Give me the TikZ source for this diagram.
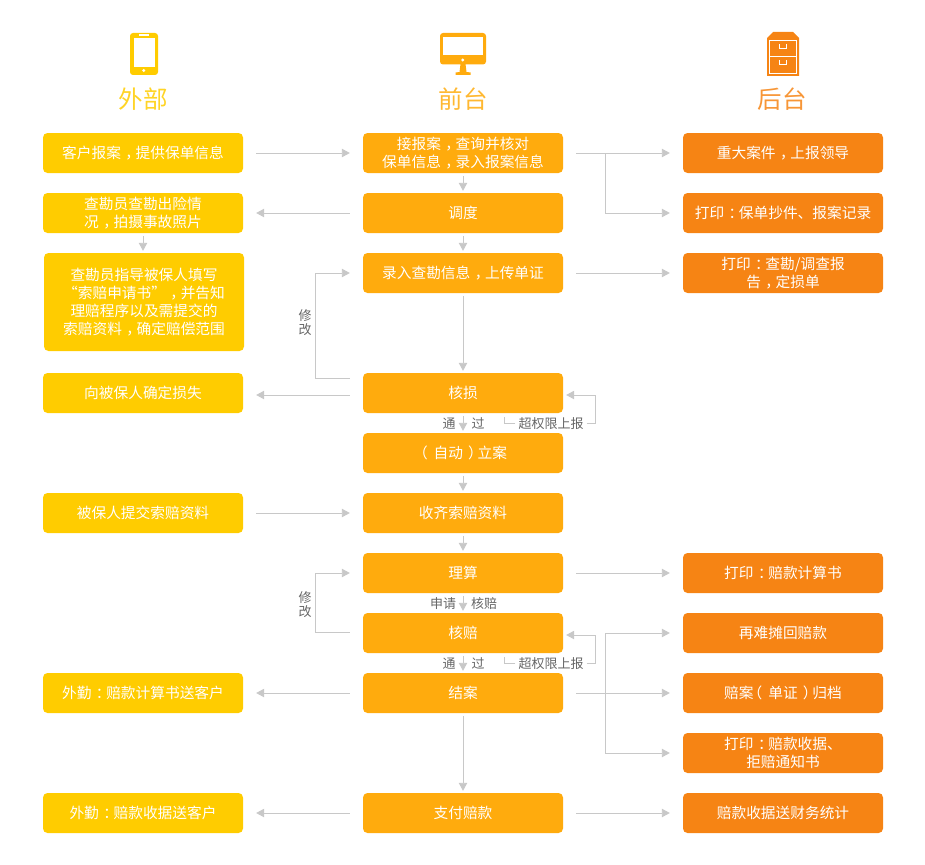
\documentclass[tikz,border=0pt]{standalone}
\usepackage{fontspec}
\setmainfont{Noto Sans CJK SC}
\usetikzlibrary{arrows.meta,calc}
\definecolor{ycol}{HTML}{FFCC00}
\definecolor{ocol}{HTML}{FFAB0D}
\definecolor{dcol}{HTML}{F68414}
\definecolor{lcol}{HTML}{C8C8C8}
\definecolor{tcol}{HTML}{666666}
\newcommand{\pshift}[2]{\makebox[1em][l]{\hspace*{#1}#2}}
\newcommand{\zcm}{\pshift{.3em}{，}}
\newcommand{\zcl}{\pshift{.3em}{：}}
\newcommand{\zlp}{\pshift{-.4em}{（}}
\newcommand{\zrp}{\pshift{.35em}{）}}
\tikzset{
  boxbase/.style={rounded corners=4.5pt,minimum width=200pt,minimum height=40pt,inner sep=0pt,align=center,text=white,font=\fontsize{14.7}{18}\selectfont},
  ybox/.style={boxbase,fill=ycol},
  obox/.style={boxbase,fill=ocol},
  dbox/.style={boxbase,fill=dcol},
  lnk/.style={draw=lcol,line width=0.9pt},
  arr/.style={lnk,-{Triangle[length=8pt,width=8.5pt,fill=lcol,color=lcol]}},
  hflow/.style={arr,shorten <=13pt,shorten >=13pt},
  vflow/.style={arr,shorten <=3pt,shorten >=2pt},
  lab/.style={text=tcol,font=\fontsize{13}{14}\selectfont,inner sep=3pt,align=center},
  ttl/.style={font=\fontsize{24.5}{26}\selectfont,inner sep=0pt},
}
\begin{document}
\begin{tikzpicture}[x=1pt,y=-1pt]
\useasboundingbox (0,0) rectangle (925,864);
% icons
\fill[ycol,rounded corners=3pt] (130,33) rectangle (158,75);
\fill[white] (134,38) rectangle (155,67);
\fill[white] (138.5,34.5) rectangle (148.5,36.2);
\fill[white] (143.7,70.5) circle (1.7pt);
\fill[ocol,rounded corners=3pt] (440,33) rectangle (486,64.5);
\fill[white] (443.3,36.7) rectangle (482.7,55);
\fill[white] (462.7,60) circle (1.7pt);
\fill[ocol] (460.5,64) -- (465.5,64) -- (466.5,72) -- (470.5,72.5) -- (470.5,75) -- (455.5,75) -- (455.5,72.5) -- (459.5,72) -- cycle;
\fill[dcol] (773,32) -- (793,32) -- (799,38) -- (799,76) -- (767,76) -- (767,38) -- cycle;
\fill[white] (769,40) rectangle (797,74);
\fill[dcol] (770,41) rectangle (796,56);
\fill[dcol] (770,57) rectangle (796,73);
\fill[white] (779,44) rectangle (787,49);
\fill[dcol] (780,44) rectangle (786,48);
\fill[white] (779,60.5) rectangle (787,65);
\fill[dcol] (780,60.5) rectangle (786,64);
% titles
\node[ttl,text=ycol!85] (t1) at (143,99) {外部};
\node[ttl,text=ocol!85] (t2) at (463,99) {前台};
\node[ttl,text=dcol!85] (t3) at (782,99) {后台};
% left column
\node[ybox] (a1) at (143,153) {客户报案\zcm 提供保单信息};
\node[ybox] (a2) at (143,213) {查勘员查勘出险情\\况\zcm 拍摄事故照片};
\node[ybox,minimum height=98pt] (a3) at (144,302) {查勘员指导被保人填写\\“索赔申请书”\zcm 并告知\\理赔程序以及需提交的\\索赔资料\zcm 确定赔偿范围};
\node[ybox] (a4) at (143,393) {向被保人确定损失};
\node[ybox] (a6) at (143,513) {被保人提交索赔资料};
\node[ybox] (a9) at (143,693) {外勤\zcl 赔款计算书送客户};
\node[ybox] (a11) at (143,813) {外勤\zcl 赔款收据送客户};
% middle column
\node[obox] (b1) at (463,153) {接报案\zcm 查询并核对\\保单信息\zcm 录入报案信息};
\node[obox] (b2) at (463,213) {调度};
\node[obox] (b3) at (463,273) {录入查勘信息\zcm 上传单证};
\node[obox] (b4) at (463,393) {核损};
\node[obox] (b5) at (463,453) {\zlp 自动\zrp 立案};
\node[obox] (b6) at (463,513) {收齐索赔资料};
\node[obox] (b7) at (463,573) {理算};
\node[obox] (b8) at (463,633) {核赔};
\node[obox] (b9) at (463,693) {结案};
\node[obox] (b11) at (463,813) {支付赔款};
% right column
\node[dbox] (c1) at (783,153) {重大案件\zcm 上报领导};
\node[dbox] (c2) at (783,213) {打印\zcl 保单抄件、报案记录};
\node[dbox] (c3) at (783,273) {打印\zcl 查勘/调查报\\告\zcm 定损单};
\node[dbox] (c7) at (783,573) {打印\zcl 赔款计算书};
\node[dbox] (c8) at (783,633) {再难摊回赔款};
\node[dbox] (c9) at (783,693) {赔案\zlp 单证\zrp 归档};
\node[dbox] (c10) at (783,753) {打印\zcl 赔款收据、\\拒赔通知书};
\node[dbox] (c11) at (783,813) {赔款收据送财务统计};
% labels
\node[lab] (m1) at (305,323) {修\\改};
\node[lab] (m2) at (305,605) {修\\改};
\node[lab] (p1) at (449,423.5) {通};
\node[lab] (p2) at (478,423.5) {过};
\node[lab] (p3) at (443,603.5) {申请};
\node[lab] (p4) at (484,603.5) {核赔};
\node[lab] (p5) at (449,663.5) {通};
\node[lab] (p6) at (478,663.5) {过};
\node[lab] (u1) at (551,423.5) {超权限上报};
\node[lab] (u2) at (551,663.5) {超权限上报};
\coordinate (ul1) at (504,417);
\coordinate (ur1) at (595.5,395);
\coordinate (ul2) at (504,657);
\coordinate (ur2) at (595.5,635);
% horizontal flows
\draw[hflow] (a1.east) -- (b1.west);
\draw[hflow] (b1.east) -- (c1.west);
\draw[hflow] (b1.east) -- ++(42.5pt,0) |- (c2.west);
\draw[hflow] (b2.west) -- (a2.east);
\draw[hflow] (b3.east) -- (c3.west);
\draw[hflow] ([yshift=-2pt]b4.west) -- ([yshift=-2pt]a4.east);
\draw[hflow] (a6.east) -- (b6.west);
\draw[hflow] (b7.east) -- (c7.west);
\draw[hflow] (b9.west) -- (a9.east);
\draw[hflow] (b9.east) -- (c9.west);
\draw[hflow] (b9.east) -- ++(42.5pt,0) |- (c8.west);
\draw[hflow] (b9.east) -- ++(42.5pt,0) |- (c10.west);
\draw[hflow] (b11.west) -- (a11.east);
\draw[hflow] (b11.east) -- (c11.west);
% modify loops
\draw[hflow] ([yshift=15pt]b4.west) -- ++(-47.5pt,0) |- (b3.west);
\draw[hflow] ([yshift=1pt]b8.west) -- ++(-47.5pt,0) |- (b7.west);
% vertical flows
\draw[vflow] (a2.south) -- (a2.south |- a3.north);
\draw[vflow] (b1) -- (b2);
\draw[vflow] (b2) -- (b3);
\draw[vflow] (b3) -- (b4);
\draw[vflow] (b4) -- (b5);
\draw[vflow] (b5) -- (b6);
\draw[vflow] (b6) -- (b7);
\draw[vflow] (b7) -- (b8);
\draw[vflow] (b8) -- (b9);
\draw[vflow] (b9) -- (b11);
% over-limit reports
\draw[lnk] (u1.west) -| (ul1);
\draw[arr,shorten >=3pt] (u1.east) -| (ur1) -- ([yshift=-2pt]b4.east);
\draw[lnk] (u2.west) -| (ul2);
\draw[arr,shorten >=3pt] (u2.east) -| (ur2) -- ([yshift=-2pt]b8.east);
\end{tikzpicture}
\end{document}
